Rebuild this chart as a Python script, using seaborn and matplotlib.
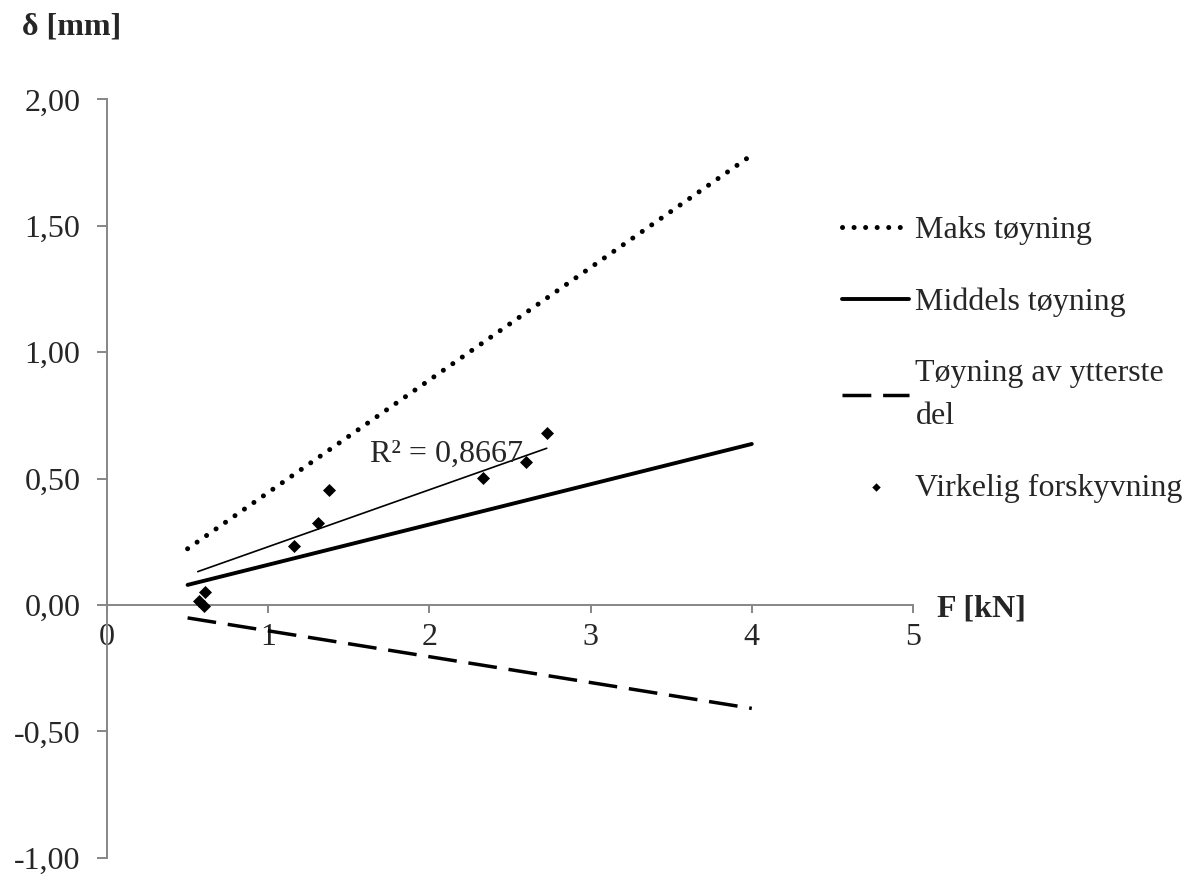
import numpy as np
import pandas as pd
import matplotlib
matplotlib.use("Agg")
import matplotlib.pyplot as plt
import seaborn as sns

# ---------------- data ----------------
line_x = [0.5, 4.0]
maks_y = [0.2225, 1.78]
middels_y = [0.0795, 0.637]
ytterste_y = [-0.051, -0.409]

obs_x = [0.57, 0.60, 0.608, 1.160, 1.307, 1.377, 2.334, 2.599, 2.728]
obs_y = [0.015, -0.005, 0.053, 0.233, 0.323, 0.455, 0.501, 0.564, 0.682]

trend_x = [0.563, 2.728]
trend_y = [0.132, 0.620]
r2_text = "R² = 0,8667"

x_ticks = [0, 1, 2, 3, 4, 5]
y_ticks = [-1.0, -0.5, 0.0, 0.5, 1.0, 1.5, 2.0]
y_ticklabels = ["-1,00", "-0,50", "0,00", "0,50", "1,00", "1,50", "2,00"]

labels = ["Maks tøyning", "Middels tøyning", "Tøyning av ytterste\ndel", "Virkelig forskyvning"]
x_label = "F [kN]"
y_label = "δ [mm]"

# ---------------- style ----------------
sns.set_style("white")
plt.rcParams["font.family"] = ["Liberation Serif", "DejaVu Serif"]
plt.rcParams["font.size"] = 23

W, H = 1196, 875
fig = plt.figure(figsize=(W / 100, H / 100), dpi=100)
ax = fig.add_axes([107 / W, 1 - 857.8 / H, (913 - 107) / W, (857.8 - 99.4) / H])

df_lines = pd.DataFrame({"x": line_x, "maks": maks_y, "mid": middels_y, "ytt": ytterste_y})

sns.lineplot(data=df_lines, x="x", y="maks", ax=ax, color="black", linewidth=3.6,
             linestyle=(0, (0.01, 2.3)), dash_capstyle="round", label=labels[0])
sns.lineplot(data=df_lines, x="x", y="mid", ax=ax, color="black", linewidth=2.8,
             label=labels[1])
sns.lineplot(data=df_lines, x="x", y="ytt", ax=ax, color="black", linewidth=2.5,
             linestyle=(0, (8.3, 3.4)), label=labels[2])
sns.scatterplot(x=obs_x, y=obs_y, ax=ax, color="black", marker="D", s=44,
                edgecolor="black", linewidth=0, label=labels[3], zorder=5)
sns.lineplot(x=trend_x, y=trend_y, ax=ax, color="black", linewidth=1.2, legend=False)

ax.text(1.63, 0.566, r2_text, fontsize=23, ha="left", va="baseline")

# ---------------- axes ----------------
ax.set_xlim(0, 5)
ax.set_ylim(-1, 2)
ax.set_xticks(x_ticks)
ax.set_xticklabels([str(t) for t in x_ticks])
ax.set_yticks(y_ticks)
ax.set_yticklabels(y_ticklabels)
ax.set_xlabel("")
ax.set_ylabel("")

spine_col = "#868686"
for s in ["top", "right"]:
    ax.spines[s].set_visible(False)
ax.spines["bottom"].set_position(("data", 0))
ax.spines["left"].set_position(("data", 0))
for s in ["bottom", "left"]:
    ax.spines[s].set_color(spine_col)
    ax.spines[s].set_linewidth(1.4)

ax.tick_params(axis="x", direction="out", length=6, width=1.4, color=spine_col,
               pad=7, labelsize=23, bottom=True)
ax.tick_params(axis="y", direction="out", length=7, width=1.4, color=spine_col,
               pad=12, labelsize=23, left=True)
ax.set_facecolor("white")
ax.grid(False)

fig.text(22 / W, 1 - 27 / H, y_label, fontsize=23, fontweight="bold", ha="left", va="center")
fig.text(937 / W, 1 - 609 / H, x_label, fontsize=23, fontweight="bold", ha="left", va="center")

leg = ax.legend(loc="upper left", bbox_to_anchor=(842 / W, 1 - 216 / H),
                bbox_transform=fig.transFigure, frameon=False, fontsize=23,
                handlelength=2.1, handletextpad=0.2, borderpad=0, borderaxespad=0,
                labelspacing=1.32, markerscale=0.65)
for t in leg.get_texts():
    t.set_linespacing(1.64)

fig.savefig("out.png", dpi=100, facecolor="white")
